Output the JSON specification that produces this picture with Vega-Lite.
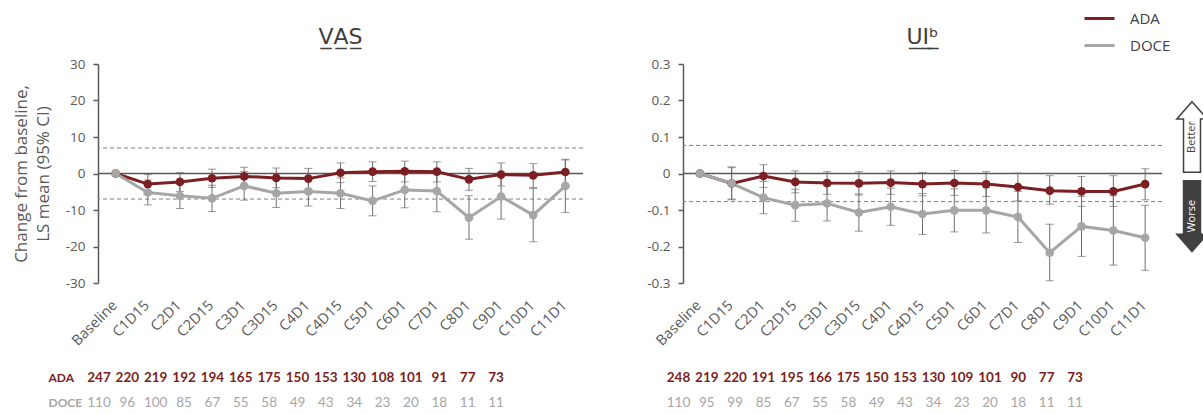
{
  "$schema": "https://vega.github.io/schema/vega-lite/v6.json",
  "background": "white",
  "padding": {"left": 12, "top": 2, "right": 0, "bottom": 0},
  "config": {
    "view": {"stroke": null},
    "font": "Open Sans",
    "axis": {"grid": false, "labelFont": "Open Sans", "titleFont": "Open Sans"},
    "title": {"font": "DejaVu Sans", "fontSize": 22, "fontWeight": "normal", "color": "#404040", "offset": 8}
  },
  "datasets": {
    "vas": [
      {"i": 0, "cat": "Baseline", "grp": "ADA", "m": 0, "lo": null, "hi": null},
      {"i": 1, "cat": "C1D15", "grp": "ADA", "m": -2.9, "lo": -5.6, "hi": -0.3},
      {"i": 2, "cat": "C2D1", "grp": "ADA", "m": -2.3, "lo": -4.9, "hi": 0.3},
      {"i": 3, "cat": "C2D15", "grp": "ADA", "m": -1.3, "lo": -3.8, "hi": 1.2},
      {"i": 4, "cat": "C3D1", "grp": "ADA", "m": -0.8, "lo": -3.3, "hi": 1.7},
      {"i": 5, "cat": "C3D15", "grp": "ADA", "m": -1.2, "lo": -3.9, "hi": 1.5},
      {"i": 6, "cat": "C4D1", "grp": "ADA", "m": -1.4, "lo": -4.2, "hi": 1.4},
      {"i": 7, "cat": "C4D15", "grp": "ADA", "m": 0.2, "lo": -2.5, "hi": 2.9},
      {"i": 8, "cat": "C5D1", "grp": "ADA", "m": 0.5, "lo": -2.2, "hi": 3.2},
      {"i": 9, "cat": "C6D1", "grp": "ADA", "m": 0.6, "lo": -2.3, "hi": 3.4},
      {"i": 10, "cat": "C7D1", "grp": "ADA", "m": 0.5, "lo": -2.3, "hi": 3.2},
      {"i": 11, "cat": "C8D1", "grp": "ADA", "m": -1.6, "lo": -4.6, "hi": 1.4},
      {"i": 12, "cat": "C9D1", "grp": "ADA", "m": -0.3, "lo": -3.4, "hi": 2.9},
      {"i": 13, "cat": "C10D1", "grp": "ADA", "m": -0.5, "lo": -3.8, "hi": 2.7},
      {"i": 14, "cat": "C11D1", "grp": "ADA", "m": 0.4, "lo": -3.0, "hi": 3.7},
      {"i": 0, "cat": "Baseline", "grp": "DOCE", "m": 0, "lo": null, "hi": null},
      {"i": 1, "cat": "C1D15", "grp": "DOCE", "m": -5.2, "lo": -8.6, "hi": -1.8},
      {"i": 2, "cat": "C2D1", "grp": "DOCE", "m": -6.1, "lo": -9.6, "hi": -2.6},
      {"i": 3, "cat": "C2D15", "grp": "DOCE", "m": -6.8, "lo": -10.4, "hi": -3.2},
      {"i": 4, "cat": "C3D1", "grp": "DOCE", "m": -3.4, "lo": -7.3, "hi": 0.5},
      {"i": 5, "cat": "C3D15", "grp": "DOCE", "m": -5.4, "lo": -9.3, "hi": -1.5},
      {"i": 6, "cat": "C4D1", "grp": "DOCE", "m": -4.9, "lo": -8.9, "hi": -0.9},
      {"i": 7, "cat": "C4D15", "grp": "DOCE", "m": -5.4, "lo": -9.6, "hi": -1.2},
      {"i": 8, "cat": "C5D1", "grp": "DOCE", "m": -7.5, "lo": -11.6, "hi": -3.4},
      {"i": 9, "cat": "C6D1", "grp": "DOCE", "m": -4.5, "lo": -9.4, "hi": 0.4},
      {"i": 10, "cat": "C7D1", "grp": "DOCE", "m": -4.8, "lo": -10.5, "hi": 0.9},
      {"i": 11, "cat": "C8D1", "grp": "DOCE", "m": -12.1, "lo": -18.0, "hi": -6.1},
      {"i": 12, "cat": "C9D1", "grp": "DOCE", "m": -6.3, "lo": -12.5, "hi": -0.1},
      {"i": 13, "cat": "C10D1", "grp": "DOCE", "m": -11.4, "lo": -18.7, "hi": -4.1},
      {"i": 14, "cat": "C11D1", "grp": "DOCE", "m": -3.4, "lo": -10.7, "hi": 3.9}
    ],
    "ui": [
      {"i": 0, "cat": "Baseline", "grp": "ADA", "m": 0, "lo": null, "hi": null},
      {"i": 1, "cat": "C1D15", "grp": "ADA", "m": -0.027, "lo": -0.072, "hi": 0.018},
      {"i": 2, "cat": "C2D1", "grp": "ADA", "m": -0.007, "lo": -0.038, "hi": 0.024},
      {"i": 3, "cat": "C2D15", "grp": "ADA", "m": -0.023, "lo": -0.053, "hi": 0.007},
      {"i": 4, "cat": "C3D1", "grp": "ADA", "m": -0.026, "lo": -0.057, "hi": 0.005},
      {"i": 5, "cat": "C3D15", "grp": "ADA", "m": -0.027, "lo": -0.059, "hi": 0.005},
      {"i": 6, "cat": "C4D1", "grp": "ADA", "m": -0.025, "lo": -0.057, "hi": 0.007},
      {"i": 7, "cat": "C4D15", "grp": "ADA", "m": -0.029, "lo": -0.061, "hi": 0.003},
      {"i": 8, "cat": "C5D1", "grp": "ADA", "m": -0.026, "lo": -0.060, "hi": 0.008},
      {"i": 9, "cat": "C6D1", "grp": "ADA", "m": -0.029, "lo": -0.063, "hi": 0.005},
      {"i": 10, "cat": "C7D1", "grp": "ADA", "m": -0.037, "lo": -0.075, "hi": 0.001},
      {"i": 11, "cat": "C8D1", "grp": "ADA", "m": -0.047, "lo": -0.084, "hi": -0.006},
      {"i": 12, "cat": "C9D1", "grp": "ADA", "m": -0.049, "lo": -0.090, "hi": -0.008},
      {"i": 13, "cat": "C10D1", "grp": "ADA", "m": -0.049, "lo": -0.090, "hi": -0.006},
      {"i": 14, "cat": "C11D1", "grp": "ADA", "m": -0.029, "lo": -0.072, "hi": 0.013},
      {"i": 0, "cat": "Baseline", "grp": "DOCE", "m": 0, "lo": null, "hi": null},
      {"i": 1, "cat": "C1D15", "grp": "DOCE", "m": -0.027, "lo": -0.070, "hi": 0.016},
      {"i": 2, "cat": "C2D1", "grp": "DOCE", "m": -0.066, "lo": -0.110, "hi": -0.022},
      {"i": 3, "cat": "C2D15", "grp": "DOCE", "m": -0.087, "lo": -0.131, "hi": -0.043},
      {"i": 4, "cat": "C3D1", "grp": "DOCE", "m": -0.082, "lo": -0.130, "hi": -0.034},
      {"i": 5, "cat": "C3D15", "grp": "DOCE", "m": -0.107, "lo": -0.158, "hi": -0.056},
      {"i": 6, "cat": "C4D1", "grp": "DOCE", "m": -0.091, "lo": -0.142, "hi": -0.040},
      {"i": 7, "cat": "C4D15", "grp": "DOCE", "m": -0.111, "lo": -0.167, "hi": -0.055},
      {"i": 8, "cat": "C5D1", "grp": "DOCE", "m": -0.101, "lo": -0.160, "hi": -0.042},
      {"i": 9, "cat": "C6D1", "grp": "DOCE", "m": -0.101, "lo": -0.163, "hi": -0.039},
      {"i": 10, "cat": "C7D1", "grp": "DOCE", "m": -0.119, "lo": -0.189, "hi": -0.049},
      {"i": 11, "cat": "C8D1", "grp": "DOCE", "m": -0.217, "lo": -0.294, "hi": -0.139},
      {"i": 12, "cat": "C9D1", "grp": "DOCE", "m": -0.145, "lo": -0.227, "hi": -0.063},
      {"i": 13, "cat": "C10D1", "grp": "DOCE", "m": -0.156, "lo": -0.251, "hi": -0.061},
      {"i": 14, "cat": "C11D1", "grp": "DOCE", "m": -0.176, "lo": -0.265, "hi": -0.087}
    ],
    "nvas": [
      {"cat": "Baseline", "grp": "ADA", "n": 247}, {"cat": "C1D15", "grp": "ADA", "n": 220}, {"cat": "C2D1", "grp": "ADA", "n": 219},
      {"cat": "C2D15", "grp": "ADA", "n": 192}, {"cat": "C3D1", "grp": "ADA", "n": 194}, {"cat": "C3D15", "grp": "ADA", "n": 165},
      {"cat": "C4D1", "grp": "ADA", "n": 175}, {"cat": "C4D15", "grp": "ADA", "n": 150}, {"cat": "C5D1", "grp": "ADA", "n": 153},
      {"cat": "C6D1", "grp": "ADA", "n": 130}, {"cat": "C7D1", "grp": "ADA", "n": 108}, {"cat": "C8D1", "grp": "ADA", "n": 101},
      {"cat": "C9D1", "grp": "ADA", "n": 91}, {"cat": "C10D1", "grp": "ADA", "n": 77}, {"cat": "C11D1", "grp": "ADA", "n": 73},
      {"cat": "Baseline", "grp": "DOCE", "n": 110}, {"cat": "C1D15", "grp": "DOCE", "n": 96}, {"cat": "C2D1", "grp": "DOCE", "n": 100},
      {"cat": "C2D15", "grp": "DOCE", "n": 85}, {"cat": "C3D1", "grp": "DOCE", "n": 67}, {"cat": "C3D15", "grp": "DOCE", "n": 55},
      {"cat": "C4D1", "grp": "DOCE", "n": 58}, {"cat": "C4D15", "grp": "DOCE", "n": 49}, {"cat": "C5D1", "grp": "DOCE", "n": 43},
      {"cat": "C6D1", "grp": "DOCE", "n": 34}, {"cat": "C7D1", "grp": "DOCE", "n": 23}, {"cat": "C8D1", "grp": "DOCE", "n": 20},
      {"cat": "C9D1", "grp": "DOCE", "n": 18}, {"cat": "C10D1", "grp": "DOCE", "n": 11}, {"cat": "C11D1", "grp": "DOCE", "n": 11}
    ],
    "nui": [
      {"cat": "Baseline", "grp": "ADA", "n": 248}, {"cat": "C1D15", "grp": "ADA", "n": 219}, {"cat": "C2D1", "grp": "ADA", "n": 220},
      {"cat": "C2D15", "grp": "ADA", "n": 191}, {"cat": "C3D1", "grp": "ADA", "n": 195}, {"cat": "C3D15", "grp": "ADA", "n": 166},
      {"cat": "C4D1", "grp": "ADA", "n": 175}, {"cat": "C4D15", "grp": "ADA", "n": 150}, {"cat": "C5D1", "grp": "ADA", "n": 153},
      {"cat": "C6D1", "grp": "ADA", "n": 130}, {"cat": "C7D1", "grp": "ADA", "n": 109}, {"cat": "C8D1", "grp": "ADA", "n": 101},
      {"cat": "C9D1", "grp": "ADA", "n": 90}, {"cat": "C10D1", "grp": "ADA", "n": 77}, {"cat": "C11D1", "grp": "ADA", "n": 73},
      {"cat": "Baseline", "grp": "DOCE", "n": 110}, {"cat": "C1D15", "grp": "DOCE", "n": 95}, {"cat": "C2D1", "grp": "DOCE", "n": 99},
      {"cat": "C2D15", "grp": "DOCE", "n": 85}, {"cat": "C3D1", "grp": "DOCE", "n": 67}, {"cat": "C3D15", "grp": "DOCE", "n": 55},
      {"cat": "C4D1", "grp": "DOCE", "n": 58}, {"cat": "C4D15", "grp": "DOCE", "n": 49}, {"cat": "C5D1", "grp": "DOCE", "n": 43},
      {"cat": "C6D1", "grp": "DOCE", "n": 34}, {"cat": "C7D1", "grp": "DOCE", "n": 23}, {"cat": "C8D1", "grp": "DOCE", "n": 20},
      {"cat": "C9D1", "grp": "DOCE", "n": 18}, {"cat": "C10D1", "grp": "DOCE", "n": 11}, {"cat": "C11D1", "grp": "DOCE", "n": 11}
    ],
    "zero": [{"v": 0}],
    "mcidvas": [{"v": 7}, {"v": -7}],
    "mcidui": [{"v": 0.077}, {"v": -0.077}],
    "arrows": [{"label": "Better", "v": 0.1}, {"label": "Worse", "v": -0.117}]
  },
  "resolve": {"scale": {"color": "shared"}, "legend": {"color": "shared"}},
  "spacing": 62,
  "hconcat": [
    {
      "spacing": 17,
      "vconcat": [
        {
          "width": 485,
          "height": 219,
          "title": {"text": "V̲A̲S̲"},
          "layer": [
            {
              "data": {"name": "mcidvas"},
              "mark": {"type": "rule", "color": "#7F7F7F", "strokeDash": [4, 3], "strokeWidth": 1},
              "encoding": {
                "y": {"field": "v", "type": "quantitative", "scale": {"domain": [-30, 30], "nice": false, "zero": false},
                  "axis": {"title": ["Change from baseline,", "LS mean (95% CI)"], "titleFontSize": 17, "titleFontWeight": "normal", "titleColor": "#595959", "titlePadding": 13, "titleLineHeight": 22,
                    "values": [-30, -20, -10, 0, 10, 20, 30], "tickCount": 8, "labelOverlap": false, "labelExpr": "datum.value < 0 ? '-' + abs(datum.value) : '' + datum.value",
                    "labelFontSize": 13.5, "labelColor": "#595959", "domainColor": "#595959", "domainWidth": 1.5, "tickColor": "#595959", "tickWidth": 1.5, "tickSize": 5, "labelPadding": 8}}
              }
            },
            {
              "data": {"name": "zero"},
              "mark": {"type": "rule", "color": "#595959", "strokeWidth": 1.5},
              "encoding": {"y": {"field": "v", "type": "quantitative"}}
            },
            {
              "data": {"name": "vas"},
              "transform": [{"filter": "isValid(datum.lo)"}],
              "layer": [
                {"mark": {"type": "rule", "color": "#6E6E6E", "strokeWidth": 1},
                  "encoding": {"y": {"field": "lo", "type": "quantitative"}, "y2": {"field": "hi"}}},
                {"mark": {"type": "tick", "color": "#6E6E6E", "size": 8, "thickness": 1},
                  "encoding": {"y": {"field": "lo", "type": "quantitative"}}},
                {"mark": {"type": "tick", "color": "#6E6E6E", "size": 8, "thickness": 1},
                  "encoding": {"y": {"field": "hi", "type": "quantitative"}}}
              ],
              "encoding": {
                "x": {"field": "cat", "type": "ordinal", "sort": null,
                  "scale": {"type": "point", "padding": 0.55, "domain": ["Baseline","C1D15","C2D1","C2D15","C3D1","C3D15","C4D1","C4D15","C5D1","C6D1","C7D1","C8D1","C9D1","C10D1","C11D1"]},
                  "axis": {"title": null, "domain": false, "ticks": false, "labelAngle": -45, "labelFontSize": 14.5, "labelColor": "#595959", "labelPadding": 15, "labelOffset": -6}}
              }
            },
            {
              "data": {"name": "vas"},
              "layer": [
                {"mark": {"type": "line", "strokeWidth": 3},
                  "encoding": {"order": {"field": "i"},
                    "color": {"field": "grp", "type": "nominal", "scale": {"domain": ["ADA", "DOCE"], "range": ["#7B1F22", "#A7A5A6"]},
                      "legend": {"title": null, "orient": "none", "legendX": 985, "legendY": -62, "symbolType": "stroke", "symbolStrokeWidth": 3, "symbolSize": 900, "labelFontSize": 15, "labelColor": "#404040", "labelFont": "Open Sans", "rowPadding": 2, "labelOffset": 14}}}},
                {"mark": {"type": "point", "filled": true, "size": 75, "opacity": 1},
                  "encoding": {"color": {"field": "grp", "type": "nominal", "legend": null}}}
              ],
              "encoding": {
                "x": {"field": "cat", "type": "ordinal", "sort": null},
                "y": {"field": "m", "type": "quantitative"}
              }
            }
          ]
        },
        {
          "width": 485,
          "height": 50,
          "data": {"name": "nvas"},
          "encoding": {
            "x": {"field": "cat", "type": "ordinal", "sort": null,
              "scale": {"type": "point", "padding": 0, "range": [1, 398], "domain": ["Baseline","C1D15","C2D1","C2D15","C3D1","C3D15","C4D1","C4D15","C5D1","C6D1","C7D1","C8D1","C9D1","C10D1","C11D1"]}, "axis": null},
            "y": {"field": "grp", "type": "nominal", "sort": ["ADA", "DOCE"], "scale": {"paddingInner": 0, "paddingOuter": 0},
              "axis": {"title": null, "domain": false, "ticks": false, "labelAlign": "left", "labelPadding": 50, "labelFontSize": 12, "labelFontWeight": "bold", "labelFont": "Lato",
                "labelColor": {"condition": {"test": "datum.value == 'ADA'", "value": "#7B1F22"}, "value": "#A7A5A6"}}},
            "text": {"field": "n", "type": "quantitative"}
          },
          "layer": [
            {"transform": [{"filter": "datum.grp == 'ADA'"}], "mark": {"type": "text", "fontSize": 13.5, "fontWeight": "bold", "color": "#7B1F22", "font": "Lato"}},
            {"transform": [{"filter": "datum.grp == 'DOCE'"}], "mark": {"type": "text", "fontSize": 13.5, "color": "#A7A5A6", "font": "Lato"}}
          ]
        }
      ]
    },
    {
      "spacing": 10,
      "hconcat": [
        {
          "spacing": 17,
          "vconcat": [
            {
              "width": 479,
              "height": 219,
              "title": {"text": "U̲I̲ᵇ̲"},
              "layer": [
                {
                  "data": {"name": "mcidui"},
                  "mark": {"type": "rule", "color": "#7F7F7F", "strokeDash": [4, 3], "strokeWidth": 1},
                  "encoding": {
                    "y": {"field": "v", "type": "quantitative", "scale": {"domain": [-0.3, 0.3], "nice": false, "zero": false},
                      "axis": {"title": null, "values": [-0.3, -0.2, -0.1, 0, 0.1, 0.2, 0.3], "tickCount": 8, "labelOverlap": false,
                        "labelExpr": "datum.value == 0 ? '0' : (datum.value < 0 ? '-' + format(abs(datum.value), '.1f') : format(datum.value, '.1f'))",
                        "labelFontSize": 13.5, "labelColor": "#595959", "domainColor": "#595959", "domainWidth": 1.5, "tickColor": "#595959", "tickWidth": 1.5, "tickSize": 5, "labelPadding": 8}}
                  }
                },
                {
                  "data": {"name": "zero"},
                  "mark": {"type": "rule", "color": "#595959", "strokeWidth": 1.5},
                  "encoding": {"y": {"field": "v", "type": "quantitative"}}
                },
                {
                  "data": {"name": "ui"},
                  "transform": [{"filter": "isValid(datum.lo)"}],
                  "layer": [
                    {"mark": {"type": "rule", "color": "#6E6E6E", "strokeWidth": 1},
                      "encoding": {"y": {"field": "lo", "type": "quantitative"}, "y2": {"field": "hi"}}},
                    {"mark": {"type": "tick", "color": "#6E6E6E", "size": 8, "thickness": 1},
                      "encoding": {"y": {"field": "lo", "type": "quantitative"}}},
                    {"mark": {"type": "tick", "color": "#6E6E6E", "size": 8, "thickness": 1},
                      "encoding": {"y": {"field": "hi", "type": "quantitative"}}}
                  ],
                  "encoding": {
                    "x": {"field": "cat", "type": "ordinal", "sort": null,
                      "scale": {"type": "point", "padding": 0.53, "domain": ["Baseline","C1D15","C2D1","C2D15","C3D1","C3D15","C4D1","C4D15","C5D1","C6D1","C7D1","C8D1","C9D1","C10D1","C11D1"]},
                      "axis": {"title": null, "domain": false, "ticks": false, "labelAngle": -45, "labelFontSize": 14.5, "labelColor": "#595959", "labelPadding": 15, "labelOffset": -6}}
                  }
                },
                {
                  "data": {"name": "ui"},
                  "layer": [
                    {"mark": {"type": "line", "strokeWidth": 3},
                      "encoding": {"order": {"field": "i"}, "color": {"field": "grp", "type": "nominal", "legend": null}}},
                    {"mark": {"type": "point", "filled": true, "size": 75, "opacity": 1},
                      "encoding": {"color": {"field": "grp", "type": "nominal", "legend": null}}}
                  ],
                  "encoding": {
                    "x": {"field": "cat", "type": "ordinal", "sort": null},
                    "y": {"field": "m", "type": "quantitative"}
                  }
                }
              ]
            },
            {
              "width": 479,
              "height": 50,
              "data": {"name": "nui"},
              "encoding": {
                "x": {"field": "cat", "type": "ordinal", "sort": null,
                  "scale": {"type": "point", "padding": 0, "range": [-4.5, 392], "domain": ["Baseline","C1D15","C2D1","C2D15","C3D1","C3D15","C4D1","C4D15","C5D1","C6D1","C7D1","C8D1","C9D1","C10D1","C11D1"]}, "axis": null},
                "y": {"field": "grp", "type": "nominal", "sort": ["ADA", "DOCE"], "scale": {"paddingInner": 0, "paddingOuter": 0}, "axis": null},
                "text": {"field": "n", "type": "quantitative"}
              },
              "layer": [
                {"transform": [{"filter": "datum.grp == 'ADA'"}], "mark": {"type": "text", "fontSize": 13.5, "fontWeight": "bold", "color": "#7B1F22", "font": "Lato"}},
                {"transform": [{"filter": "datum.grp == 'DOCE'"}], "mark": {"type": "text", "fontSize": 13.5, "color": "#A7A5A6", "font": "Lato"}}
              ]
            }
          ]
        },
        {
          "width": 30,
          "height": 219,
          "title": {"text": "U", "color": "rgba(0,0,0,0)"},
          "data": {"name": "arrows"},
          "encoding": {
            "y": {"field": "v", "type": "quantitative", "scale": {"domain": [-0.3, 0.3], "nice": false, "zero": false}, "axis": null}
          },
          "layer": [
            {"mark": {"type": "point", "filled": true, "stroke": "#404040", "strokeWidth": 1.5, "opacity": 1, "size": 5000},
              "encoding": {
                "shape": {"field": "label", "type": "nominal", "scale": {"domain": ["Better", "Worse"], "range": ["M0,-1L0.43,-0.51L0.24,-0.51L0.24,1L-0.24,1L-0.24,-0.51L-0.43,-0.51Z", "M0,1L0.43,0.51L0.24,0.51L0.24,-1L-0.24,-1L-0.24,0.51L-0.43,0.51Z"]}, "legend": null},
                "fill": {"field": "label", "type": "nominal", "scale": {"domain": ["Better", "Worse"], "range": ["#FFFFFF", "#404040"]}, "legend": null}
              }},
            {"mark": {"type": "text", "angle": 270, "fontSize": 11, "font": "Open Sans"},
              "encoding": {
                "text": {"field": "label", "type": "nominal"},
                "color": {"condition": {"test": "datum.label == 'Better'", "value": "#404040"}, "value": "#FFFFFF"}
              }}
          ]
        }
      ]
    }
  ]
}
